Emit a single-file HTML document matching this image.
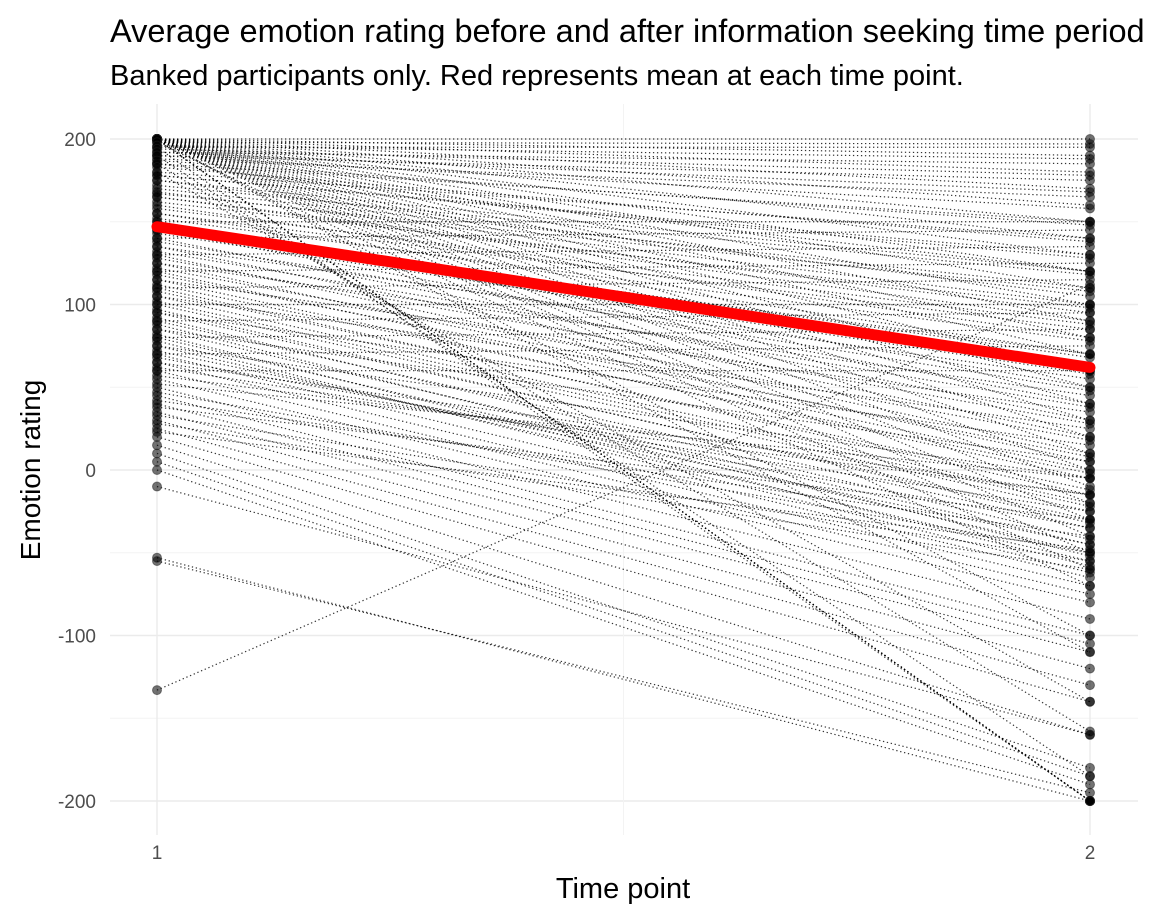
<!DOCTYPE html>
<html><head><meta charset="utf-8"><style>
html,body{margin:0;padding:0;background:#fff;overflow:hidden}
svg{display:block;font-family:"Liberation Sans",Arial,sans-serif}
</style></head><body>
<svg id="chart" width="1152" height="921">
<text x="110" y="42" font-size="32.5" fill="#000">Average emotion rating before and after information seeking time period</text>
<text x="110" y="85" font-size="29" fill="#000">Banked participants only. Red represents mean at each time point.</text>
<g id="grid"></g>
<g id="lines"></g>
<g id="points"></g>
<g id="mean"></g>
<g id="axes"></g>
<text x="623" y="898" font-size="29" text-anchor="middle">Time point</text>
<text transform="translate(40,470) rotate(-90)" font-size="28" text-anchor="middle">Emotion rating</text>
</svg>
<script>
const timePoints = [1, 2];
const startValues = [200,200,200,200,200,200,195,190,185,180,200,200,198,
200,200,200,200,200,200,200,200,200,200,200,200,200,200,200,200,200,200,200,200,200,200,200,200,200,200,200,
195,192,190,188,185,180,178,175,170,168,165,160,155,150,148,145,140,135,130,125,120,115,110,105,100,95,90,85,80,75,70,65,60,55,50,45,40,35,30,25,20,15,10,5,0,-10,-53,-55,-133,
150,140,130,120,110,100,90,80,70,60,185,175,165,155,145,135,125,115,105,95,85,75,65,
198,196,194,192,190,187,183,178,172,167,162,158,152,147,143,138,132,128,122,118,112,108,102,97,92,88,82,78,72,68,62,57,52,47,42,38,33,28,23];
const endValues = [-200,-200,-200,-200,-200,-200,-200,-185,-158,-140,-110,-100,-70,
200,190,180,170,160,150,140,130,120,110,100,90,80,70,60,50,40,30,20,10,0,-10,-20,-30,-40,-50,-60,
195,185,175,165,150,140,130,120,110,100,90,80,70,60,50,40,30,20,10,5,0,-5,-15,-20,-25,-30,-35,-45,-50,-55,-65,-70,-75,-80,-90,-100,-105,-110,-120,-130,-140,-160,-180,-185,-190,-160,-200,-195,112,
150,145,135,125,115,100,95,85,75,60,120,105,95,85,70,55,45,35,25,15,5,-5,-15,
197,188,178,168,158,148,138,128,118,108,98,88,78,68,58,48,38,28,18,8,-2,-12,-22,-32,-42,-52,-58,-62,-45,-35,-25,-15,-5,-50,-40,-30,-55,-60,-48];
const meanValues = [147, 62];
const yTicks = [200, 100, 0, -100, -200];
const yMinor = [150, 50, -50, -150];
const xTickLabels = ["1", "2"];

const NS = "http://www.w3.org/2000/svg";
const xS = t => 157 + (t - 1) * 933;
const yS = v => 470 - v * 1.655;
function mk(tag, attrs, parent) {
  const e = document.createElementNS(NS, tag);
  for (const k in attrs) e.setAttribute(k, attrs[k]);
  document.getElementById(parent).appendChild(e);
  return e;
}
yMinor.forEach(v => {
  const l = mk("line", {x1:110, x2:1138, y1:yS(v), y2:yS(v), stroke:"#f3f3f3", "stroke-width":1}, "grid");
  
  
});
yTicks.forEach(v => {
  const l = mk("line", {x1:110, x2:1138, y1:yS(v), y2:yS(v), stroke:"#ebebeb", "stroke-width":1.4}, "grid");
  
  
  const t = mk("text", {x:96, y:yS(v)+7, "font-size":19, fill:"#4d4d4d", "text-anchor":"end"}, "axes");
  t.textContent = v;
  
  
});
{
  const l = mk("line", {x1:xS(1.5), x2:xS(1.5), y1:104, y2:835, stroke:"#f3f3f3", "stroke-width":1}, "grid");
  
  
}
timePoints.forEach((tp, i) => {
  const l = mk("line", {x1:xS(tp), x2:xS(tp), y1:104, y2:835, stroke:"#ebebeb", "stroke-width":1.4}, "grid");
  
  
  const t = mk("text", {x:xS(tp), y:859, "font-size":19, fill:"#4d4d4d", "text-anchor":"middle"}, "axes");
  t.textContent = xTickLabels[i];
  
  
});
startValues.forEach((s, i) => {
  const e = endValues[i];
  const l = mk("line", {x1:xS(1), y1:yS(s), x2:xS(2), y2:yS(e), stroke:"#000", "stroke-opacity":0.8, "stroke-width":1.2, "stroke-dasharray":"1.3,2.7"}, "lines");
  
  
  [[1, s], [2, e]].forEach(([tp, v]) => {
    const c = mk("circle", {cx:xS(tp), cy:yS(v), r:4.5, fill:"#000", "fill-opacity":0.55, stroke:"#222", "stroke-opacity":0.5}, "points");
    
    
  });
});
{
  const l = mk("line", {x1:xS(timePoints[0]), y1:yS(meanValues[0]), x2:xS(timePoints[1]), y2:yS(meanValues[1]), stroke:"#ff0000", "stroke-width":11, "stroke-linecap":"round"}, "mean");
  
  
}
</script>
</body></html>
